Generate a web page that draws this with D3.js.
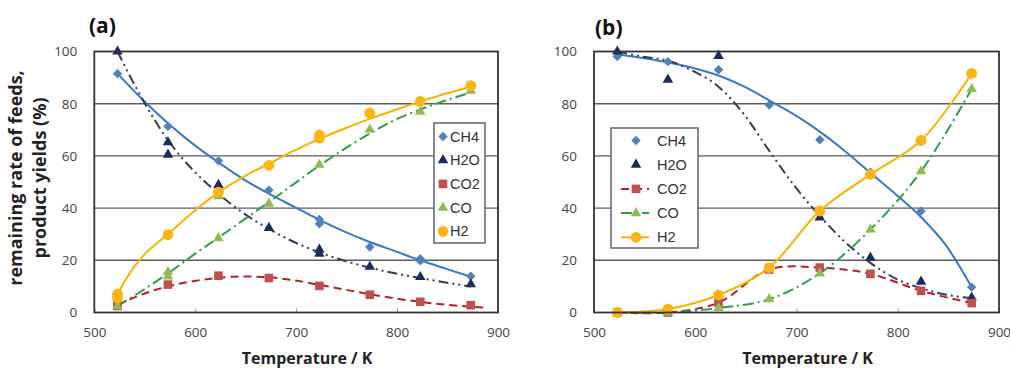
<!DOCTYPE html>
<html>
<head>
<meta charset="utf-8">
<script src="https://cdn.jsdelivr.net/npm/d3@7"></script>
<style>
  body { margin: 0; background: #fff; }
  svg { display: block; }
</style>
</head>
<body>
<svg id="chart" width="1010" height="369"></svg>
<script>
// ---- data ----
const xTicks = [500, 600, 700, 800, 900]
const yTicks = [0, 20, 40, 60, 80, 100]
const seriesNames = ['CH4', 'H2O', 'CO2', 'CO', 'H2']

// panel (a): measured points [K, %]
const ch4A = [[523, 91.5], [573, 71.3], [623, 58.1], [673, 46.9], [723, 35.7], [723, 34], [773, 25.1], [823, 20.6], [823, 19.8], [873, 13.9]]
const h2oA = [[523, 100], [573, 65.2], [573, 60.5], [623, 48.9], [673, 32.4], [723, 24.1], [723, 22.5], [773, 17.5], [823, 13.6], [873, 10.8]]
const co2A = [[523, 2.5], [523, 3.8], [573, 10.7], [623, 14.1], [673, 13.2], [723, 10.2], [773, 6.8], [823, 4.1], [873, 2.8]]
const coA = [[523, 2.4], [573, 15.5], [573, 13.8], [623, 28.5], [623, 44.6], [673, 41.7], [723, 56.6], [773, 70.1], [823, 76.9], [873, 85]]
const h2A = [[523, 7], [523, 5.5], [573, 29.8], [623, 46.1], [673, 56.4], [723, 68], [723, 66.8], [773, 76.4], [823, 80.9], [873, 86.9]]

// panel (a): trend lines
const fitTempsA = [523, 548, 573, 598, 623, 648, 673, 698, 723, 748, 773, 798, 823, 848, 873]
const ch4FitA = [91.5, 81.5, 72.5, 64.5, 57.5, 51, 45.5, 40.5, 35.5, 31, 27, 23.5, 20, 16.8, 13.7]
const h2oFitA = [100, 81.5, 66, 54.5, 45.5, 38, 32, 27, 23, 19.8, 17.2, 15, 13.2, 11.5, 10]
const coFitA = [2.5, 8.5, 15, 22, 28.7, 35.5, 42.3, 49.3, 56.3, 62.7, 68.6, 73.8, 77.8, 81.2, 84.3]
const co2FitTempsA = [523, 548, 573, 598, 623, 648, 673, 698, 723, 748, 773, 798, 823, 848, 873, 888]
const co2FitA = [3, 7, 10, 12, 13.3, 13.8, 13.5, 12.3, 10.6, 8.8, 7, 5.4, 4.1, 3, 2.2, 1.8]
const h2FitTempsA = [523, 535, 548, 573, 598, 623, 648, 673, 698, 723, 748, 773, 798, 823, 848, 873]
const h2FitA = [7, 15, 21.5, 30, 38.5, 46, 52, 57, 62, 66.5, 70.5, 74.2, 77.6, 80.8, 83.8, 86.5]

// panel (b): measured points [K, %]
const ch4B = [[523, 98.1], [573, 96.1], [623, 93], [673, 79.5], [723, 66.2], [773, 53.8], [823, 38.8], [873, 9.7]]
const h2oB = [[523, 100], [573, 89.2], [623, 98.3], [723, 36.4], [773, 21], [823, 11.8], [873, 5.7]]
const co2B = [[523, 0], [573, 0], [623, 3.8], [673, 16.5], [723, 17.2], [773, 14.8], [823, 8.3], [873, 3.6]]
const coB = [[523, 0], [573, 0], [623, 1.7], [673, 5.1], [723, 15], [773, 31.8], [823, 54.1], [873, 85.6]]
const h2B = [[523, 0], [573, 1.3], [623, 6.7], [673, 17.2], [723, 38.9], [773, 52.9], [823, 65.9], [873, 91.6]]

// panel (b): trend lines for CH4 and H2O
const fitTempsB = [523, 548, 573, 598, 623, 648, 673, 698, 723, 748, 773, 798, 823, 848, 873]
const ch4FitB = [99, 97.5, 95.8, 93.7, 90.8, 86.6, 81.3, 75.8, 69.3, 61.8, 53.5, 45.3, 36.5, 25.5, 9.7]
const h2oFitB = [100, 98, 96.5, 92.5, 86.5, 76, 62, 48.5, 37, 27, 19, 13, 9.3, 6.8, 5.5]

// ---- styles ----
const styles = {
    CH4: { shape: 'diamond', fill: '#4F81BD', stroke: '#3B78C2', dash: null },
    H2O: { shape: 'triangle', fill: '#1C2B5E', stroke: '#353C55', dash: '10,4,2,4,2,4' },
    CO2: { shape: 'square', fill: '#C0504D', stroke: '#B3202C', dash: '8,5' },
    CO: { shape: 'triangle', fill: '#92BB55', stroke: '#2E9E4A', dash: '11,4,2,4' },
    H2: { shape: 'circle', fill: '#FDB515', stroke: '#F4B400', dash: null }
}

const symbolGen = {
    diamond: d3.symbol().type(d3.symbolSquare).size(44),
    triangle: d3.symbol().type(d3.symbolTriangle).size(48),
    square: d3.symbol().type(d3.symbolSquare).size(74),
    circle: d3.symbol().type(d3.symbolCircle).size(92)
}

const svg = d3.select('#chart')

function drawMarker(g, name, cx, cy) {
    let s = styles[name]
    let rot = s.shape === 'diamond' ? ' rotate(45)' : ''
    g.append('path')
        .attr('d', symbolGen[s.shape]())
        .attr('transform', `translate(${cx},${cy})${rot}`)
        .attr('fill', s.fill)
}

function drawPanel(p) {
    let x = d3.scaleLinear().domain([500, 900]).range([p.left, p.right])
    let y = d3.scaleLinear().domain([0, 100]).range([312.5, 51.5])
    let g = svg.append('g')

    // horizontal gridlines
    g.selectAll('line.grid')
        .data(yTicks.slice(1, -1))
        .join('line')
        .attr('x1', p.left).attr('x2', p.right)
        .attr('y1', d => y(d)).attr('y2', d => y(d))
        .attr('stroke', '#5c5c5c')
        .attr('stroke-width', 1.4)

    let yAxis = d3.axisLeft(y).tickValues(yTicks).tickSize(0).tickPadding(17)
    g.append('g')
        .attr('transform', `translate(${p.left},0)`)
        .call(yAxis)
        .call(a => a.select('.domain').remove())
        .selectAll('text')
        .attr('font-family', 'Open Sans')
        .attr('font-size', 13.5)
        .attr('fill', '#444')

    let xAxis = d3.axisBottom(x).tickValues(xTicks).tickSize(-4).tickPadding(15)
    g.append('g')
        .attr('transform', `translate(0,${y(0)})`)
        .call(xAxis)
        .call(a => a.select('.domain').remove())
        .call(a => a.selectAll('line').attr('stroke', '#999'))
        .selectAll('text')
        .attr('font-family', 'Open Sans')
        .attr('font-size', 13.5)
        .attr('fill', '#444')

    let line = d3.line().x(d => x(d[0])).y(d => y(d[1]))

    // curves
    for (const c of p.curves) {
        let s = styles[c.name]
        g.append('path')
            .datum(c.data)
            .attr('d', line.curve(c.curve || d3.curveMonotoneX))
            .attr('fill', 'none')
            .attr('stroke', s.stroke)
            .attr('stroke-width', 2)
            .attr('stroke-dasharray', s.dash)
    }

    // markers
    for (const m of p.points) {
        for (const d of m.data) {
            drawMarker(g, m.name, x(d[0]), y(d[1]))
        }
    }

    // frame
    g.append('rect')
        .attr('x', p.left).attr('y', y(100))
        .attr('width', p.right - p.left).attr('height', y(0) - y(100))
        .attr('fill', 'none')
        .attr('stroke', '#333')
        .attr('stroke-width', 1.8)

    // x title
    g.append('text')
        .attr('x', (p.left + p.right) / 2 + 11)
        .attr('y', 364)
        .attr('text-anchor', 'middle')
        .attr('font-family', 'Open Sans')
        .attr('font-weight', 'bold')
        .attr('font-size', 16)
        .attr('fill', '#222')
        .text('Temperature / K')

    // panel label
    g.append('text')
        .attr('x', p.labelX)
        .attr('y', p.labelY)
        .attr('font-family', 'Open Sans')
        .attr('font-weight', 'bold')
        .attr('font-size', 21)
        .attr('fill', '#111')
        .text(p.label)

    // legend
    let lg = g.append('g')
    lg.append('rect')
        .attr('x', p.legend.x).attr('y', p.legend.y)
        .attr('width', p.legend.w).attr('height', p.legend.h)
        .attr('fill', '#fff')
        .attr('stroke', '#5B6477')
        .attr('stroke-width', 1.5)
    seriesNames.forEach((name, i) => {
        let cy = p.legend.y + p.legend.first + i * p.legend.step
        let s = styles[name]
        if (p.legend.lines.includes(name)) {
            lg.append('line')
                .attr('x1', p.legend.mx - 15).attr('x2', p.legend.mx + 13)
                .attr('y1', cy).attr('y2', cy)
                .attr('stroke', s.stroke)
                .attr('stroke-width', 2)
                .attr('stroke-dasharray', s.dash)
        }
        drawMarker(lg, name, p.legend.mx, cy)
        lg.append('text')
            .attr('x', p.legend.tx)
            .attr('y', cy + 5)
            .attr('font-family', 'Liberation Sans')
            .attr('font-size', 14.5)
            .attr('fill', '#333')
            .text(name)
    })
}

drawPanel({
    left: 94.3, right: 498, label: '(a)', labelX: 89, labelY: 33,
    curves: [
        { name: 'CH4', data: d3.zip(fitTempsA, ch4FitA) },
        { name: 'H2O', data: d3.zip(fitTempsA, h2oFitA) },
        { name: 'CO2', data: d3.zip(co2FitTempsA, co2FitA) },
        { name: 'CO', data: d3.zip(fitTempsA, coFitA) },
        { name: 'H2', data: d3.zip(h2FitTempsA, h2FitA) }
    ],
    points: [
        { name: 'CH4', data: ch4A }, { name: 'H2O', data: h2oA }, { name: 'CO2', data: co2A },
        { name: 'CO', data: coA }, { name: 'H2', data: h2A }
    ],
    legend: { x: 434, y: 123, w: 51, h: 120, first: 13.5, step: 23.7, mx: 443, tx: 450, lines: [] }
})

drawPanel({
    left: 594, right: 999, label: '(b)', labelX: 595, labelY: 35,
    curves: [
        { name: 'CH4', data: d3.zip(fitTempsB, ch4FitB) },
        { name: 'H2O', data: d3.zip(fitTempsB, h2oFitB) },
        { name: 'CO2', data: co2B, curve: d3.curveCatmullRom.alpha(0.5) },
        { name: 'CO', data: coB, curve: d3.curveCatmullRom.alpha(0.5) },
        { name: 'H2', data: h2B, curve: d3.curveCatmullRom.alpha(0.5) }
    ],
    points: [
        { name: 'CH4', data: ch4B }, { name: 'H2O', data: h2oB }, { name: 'CO2', data: co2B },
        { name: 'CO', data: coB }, { name: 'H2', data: h2B }
    ],
    legend: { x: 611, y: 128, w: 87, h: 120, first: 12.5, step: 24.2, mx: 636, tx: 657, lines: ['CO2', 'CO', 'H2'] }
})

// y axis title (panel a only)
let yTitle = svg.append('text')
    .attr('transform', 'translate(0,178) rotate(-90)')
    .attr('text-anchor', 'middle')
    .attr('font-family', 'Open Sans')
    .attr('font-weight', 'bold')
    .attr('font-size', 18)
    .attr('fill', '#222')
yTitle.append('tspan').attr('x', 0).attr('y', 22).text('remaining rate of feeds,')
yTitle.append('tspan').attr('x', 0).attr('y', 46).text('product yields (%)')
</script>
</body>
</html>
